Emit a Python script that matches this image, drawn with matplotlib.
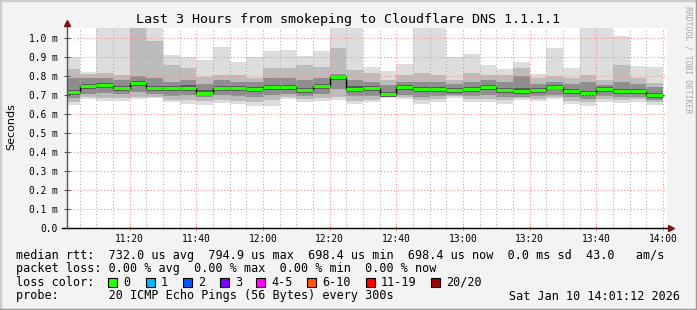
import numpy as np
import matplotlib
matplotlib.use('Agg')
import matplotlib.pyplot as plt
from matplotlib.patches import Rectangle
from matplotlib.lines import Line2D

W, H = 697, 310

# 5 minute steps from 11:00 to 14:00, in minutes of the day
step_start = 660 + 5 * np.arange(36)
step_len = 5

# median rtt per step (ms)
median = [0.716, 0.746, 0.754, 0.737, 0.763, 0.735, 0.735, 0.737, 0.712, 0.737,
          0.735, 0.730, 0.743, 0.740, 0.726, 0.748, 0.7949, 0.733, 0.736, 0.706,
          0.741, 0.730, 0.733, 0.727, 0.731, 0.743, 0.727, 0.720, 0.726, 0.744,
          0.719, 0.711, 0.732, 0.721, 0.721, 0.6984]
# smoke: sorted ping spread per step (ms)
ping_max = [0.900, 0.823, 1.210, 1.180, 1.320, 1.150, 0.910, 0.898, 0.884, 0.954,
            0.874, 0.898, 0.932, 0.937, 0.905, 0.932, 1.240, 1.130, 0.848, 0.826,
            0.864, 1.190, 1.260, 0.898, 0.916, 0.858, 0.837, 0.874, 0.811, 0.947,
            0.842, 1.170, 1.220, 1.011, 0.853, 0.847]
ping_p90 = [0.837, 0.810, 0.814, 0.805, 1.100, 0.986, 0.858, 0.844, 0.796, 0.805,
            0.805, 0.788, 0.844, 0.840, 0.858, 0.849, 0.949, 0.832, 0.814, 0.779,
            0.805, 0.814, 0.805, 0.779, 0.814, 0.805, 0.805, 0.840, 0.790, 0.800,
            0.790, 0.805, 0.779, 0.858, 0.790, 0.761]
ping_p75 = [0.790, 0.790, 0.790, 0.780, 0.800, 0.790, 0.770, 0.780, 0.760, 0.780,
            0.770, 0.770, 0.790, 0.790, 0.780, 0.790, 0.810, 0.780, 0.770, 0.750,
            0.770, 0.770, 0.770, 0.760, 0.770, 0.780, 0.770, 0.800, 0.760, 0.770,
            0.760, 0.770, 0.750, 0.770, 0.760, 0.740]
ping_p60 = [0.728, 0.758, 0.764, 0.748, 0.776, 0.746, 0.748, 0.750, 0.724, 0.748,
            0.746, 0.742, 0.755, 0.752, 0.738, 0.760, 0.802, 0.745, 0.748, 0.718,
            0.752, 0.742, 0.744, 0.739, 0.742, 0.754, 0.739, 0.735, 0.737, 0.755,
            0.731, 0.723, 0.744, 0.733, 0.733, 0.710]
ping_p40 = [0.700, 0.730, 0.738, 0.722, 0.748, 0.720, 0.720, 0.722, 0.698, 0.722,
            0.720, 0.714, 0.728, 0.726, 0.710, 0.733, 0.780, 0.716, 0.720, 0.692,
            0.726, 0.714, 0.718, 0.712, 0.716, 0.728, 0.712, 0.704, 0.710, 0.730,
            0.703, 0.695, 0.716, 0.705, 0.705, 0.684]
ping_p25 = [0.685, 0.705, 0.712, 0.705, 0.715, 0.705, 0.695, 0.700, 0.690, 0.700,
            0.695, 0.690, 0.700, 0.705, 0.695, 0.705, 0.730, 0.695, 0.695, 0.690,
            0.700, 0.690, 0.695, 0.700, 0.695, 0.700, 0.690, 0.690, 0.695, 0.700,
            0.690, 0.680, 0.695, 0.690, 0.690, 0.675]
ping_p10 = [0.665, 0.690, 0.685, 0.685, 0.690, 0.690, 0.675, 0.675, 0.670, 0.675,
            0.670, 0.665, 0.675, 0.690, 0.680, 0.685, 0.690, 0.670, 0.675, 0.690,
            0.690, 0.675, 0.680, 0.695, 0.680, 0.680, 0.675, 0.685, 0.680, 0.690,
            0.670, 0.665, 0.680, 0.675, 0.680, 0.665]
ping_min = [0.647, 0.679, 0.668, 0.668, 0.679, 0.682, 0.661, 0.654, 0.647, 0.658,
            0.651, 0.644, 0.644, 0.679, 0.661, 0.668, 0.672, 0.651, 0.661, 0.682,
            0.679, 0.654, 0.665, 0.686, 0.661, 0.661, 0.654, 0.672, 0.668, 0.679,
            0.654, 0.642, 0.661, 0.658, 0.661, 0.647]

x_ticks = [680, 700, 720, 740, 760, 780, 800, 820, 840]
x_labels = ['11:20', '11:40', '12:00', '12:20', '12:40', '13:00', '13:20', '13:40', '14:00']
y_ticks = [0.0, 0.1, 0.2, 0.3, 0.4, 0.5, 0.6, 0.7, 0.8, 0.9, 1.0]
y_labels = ['0.0', '0.1 m', '0.2 m', '0.3 m', '0.4 m', '0.5 m', '0.6 m',
            '0.7 m', '0.8 m', '0.9 m', '1.0 m']

loss_labels = ['0', '1', '2', '3', '4-5', '6-10', '11-19', '20/20']
loss_colors = ['#26ff00', '#00b8ff', '#0059ff', '#7e00ff', '#ff00ff', '#ff5500', '#ff0000', '#a10000']

MONO = 'DejaVu Sans Mono'


def px(x, y):
    return x / W, 1 - y / H


fig = plt.figure(figsize=(W / 100, H / 100), dpi=100, facecolor='#f3f3f3')
ax = fig.add_axes([67 / W, 1 - 228 / H, 600 / W, 200 / H])
ax.set_facecolor('white')
ax.set_xlim(661.2, 841.2)
ax.set_ylim(0, 1.0526)

# smoke layers, outer to inner
layers = [(ping_min, ping_max, '#dddddd'),
          (ping_p10, ping_p90, '#bcbcbc'),
          (ping_p25, ping_p75, '#8e8e8e'),
          (ping_p40, ping_p60, '#5a5a5a')]
for lo, hi, col in layers:
    lo = np.array(lo)
    hi = np.array(hi)
    ax.bar(step_start, hi - lo, bottom=lo, width=step_len, align='edge',
           color=col, linewidth=0, zorder=1)

# median line
edges = np.append(step_start, step_start[-1] + step_len)
ax.step(edges, np.append(median, median[-1]), where='post', color='black',
        lw=1.0, zorder=3)
ax.hlines(np.array(median) - 0.0045, step_start, step_start + step_len,
          color='black', lw=0.7, zorder=3)
ax.hlines(median, step_start, step_start + step_len, color=loss_colors[0],
          lw=2.2, zorder=4)

# grid
ax.set_axisbelow(False)
ax.set_xticks(x_ticks)
ax.set_xticks(np.arange(665, 841, 5), minor=True)
ax.set_yticks(y_ticks)
ax.grid(which='major', color='#ff8c8c', ls=(0, (1, 2)), lw=0.8)
ax.grid(which='minor', axis='x', color='#b0b0b0', ls=(0, (1, 2)), lw=0.8)

ax.set_xticklabels(x_labels, family=MONO, fontsize=6.9)
ax.set_yticklabels(y_labels, family=MONO, fontsize=6.9)
ax.tick_params(axis='x', which='major', length=3, direction='inout', color='#ff6060', pad=2.5)
ax.tick_params(axis='x', which='minor', length=2, direction='inout', color='#bbbbbb')
ax.tick_params(axis='y', length=4, direction='inout', color='#555555', pad=4.5)

for s in ['top', 'right', 'left', 'bottom']:
    ax.spines[s].set_visible(False)

# axis lines with arrows
ax.plot([-0.008, 1.006], [0, 0], transform=ax.transAxes, color='black', lw=1,
        clip_on=False, zorder=5)
ax.plot([0, 0], [0, 1.02], transform=ax.transAxes, color='#555555', lw=1,
        clip_on=False, zorder=5)
ax.plot([1.007], [0], transform=ax.transAxes, marker='>', ms=5, color='#7a1010',
        clip_on=False, zorder=6)
ax.plot([0], [1.025], transform=ax.transAxes, marker='^', ms=5, color='#7a1010',
        clip_on=False, zorder=6)

# titles
fig.text(*px(348.5, 19), 'Last 3 Hours from smokeping to Cloudflare DNS 1.1.1.1',
         family=MONO, fontsize=9.6, ha='center', va='center')
fig.text(*px(11, 127), 'Seconds', family='DejaVu Sans', fontsize=8,
         rotation=90, ha='center', va='center')
fig.text(*px(688, 60), 'RRDTOOL / TOBI OETIKER', family=MONO, fontsize=5.9,
         rotation=270, ha='center', va='center', color='#a8a8a8')

# legend block
fs = 8.45
fig.text(*px(16, 255), 'median rtt:  732.0 us avg  794.9 us max  698.4 us min  '
         '698.4 us now  0.0 ms sd  43.0   am/s', family=MONO, fontsize=fs, va='center')
fig.text(*px(16, 268.5), 'packet loss: 0.00 % avg  0.00 % max  0.00 % min  0.00 % now',
         family=MONO, fontsize=fs, va='center')
fig.text(*px(16, 282), 'loss color:', family=MONO, fontsize=fs, va='center')
box_x = [108, 145.5, 182.5, 219.5, 256, 306.5, 365.5, 430.5]
for bx, lab, col in zip(box_x, loss_labels, loss_colors):
    fig.patches.append(Rectangle(px(bx, 286.5), 9 / W, 9 / H, transform=fig.transFigure,
                                 facecolor=col, edgecolor='black', lw=0.8))
    fig.text(*px(bx + 15.5, 282), lab, family=MONO, fontsize=fs, va='center')
fig.text(*px(16, 296), 'probe:       20 ICMP Echo Pings (56 Bytes) every 300s',
         family=MONO, fontsize=fs, va='center')
fig.text(*px(680, 296), 'Sat Jan 10 14:01:12 2026', family=MONO, fontsize=fs,
         va='center', ha='right')

# image frame
fig.lines.append(Line2D([0, 0, 1], [0, 1, 1], transform=fig.transFigure,
                        color='#cccccc', lw=2.5))
fig.lines.append(Line2D([0, 1, 1], [0, 0, 1], transform=fig.transFigure,
                        color='#999999', lw=2.5))

fig.savefig('out.png', dpi=100, facecolor=fig.get_facecolor())
